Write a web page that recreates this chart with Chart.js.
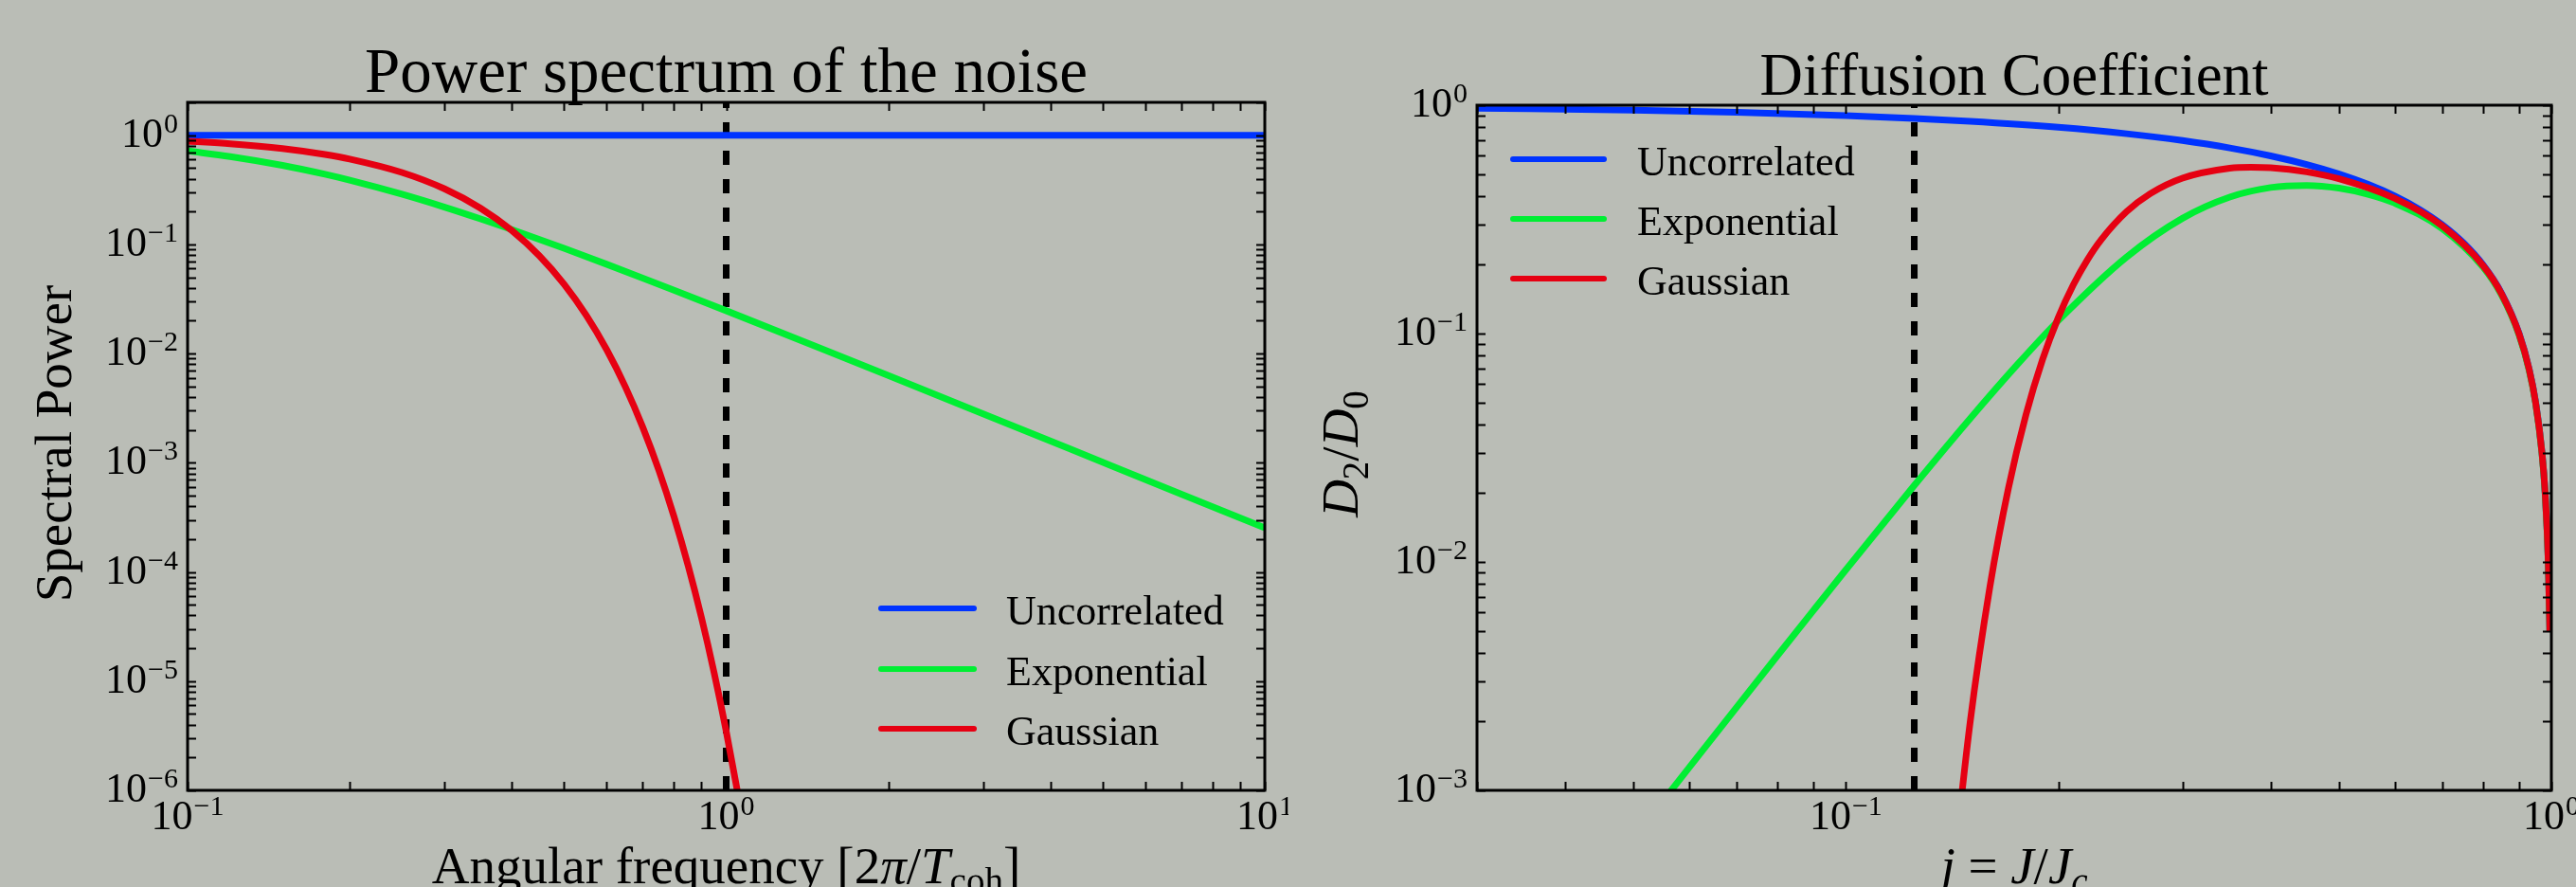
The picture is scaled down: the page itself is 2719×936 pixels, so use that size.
<!DOCTYPE html>
<html>
<head>
<meta charset="utf-8">
<script src="https://cdn.jsdelivr.net/npm/chart.js@4/dist/chart.umd.min.js"></script>
<style>
html, body { margin: 0; padding: 0; background: #babdb6; width: 2719px; height: 936px; overflow: hidden; }
canvas { position: absolute; top: 0; }
#left { left: 0; }
#right { left: 1360px; }
</style>
</head>
<body>
<canvas id="left" width="1360" height="936"></canvas>
<canvas id="right" width="1359" height="936"></canvas>
<script>
// ---------------- data ----------------
const seriesNames = ['Uncorrelated', 'Exponential', 'Gaussian'];
const seriesColors = ['#0033ff', '#00ee33', '#e60012'];

// Left panel: power spectrum of the noise
const freqUncorrelated = [0.1, 10];
const powerUncorrelated = [1, 1];
const freqExponential = [0.1, 0.12, 0.15, 0.18, 0.2, 0.25, 0.3, 0.35, 0.4, 0.5, 0.6, 0.7, 0.8, 1, 1.5, 2, 3, 5, 7, 10];
const powerExponential = [0.7170, 0.6376, 0.5296, 0.4388, 0.3877, 0.2884, 0.2196, 0.1713, 0.1367, 0.0920, 0.06574, 0.04915, 0.03807, 0.02470, 0.01113, 0.006293, 0.002807, 0.001012, 0.0005167, 0.0002532];
const freqGaussian = [0.1, 0.12, 0.15, 0.18, 0.2, 0.25, 0.3, 0.35, 0.4, 0.45, 0.5, 0.55, 0.6, 0.65, 0.7, 0.75, 0.8, 0.85, 0.9, 0.95, 1.0, 1.05, 1.1];
const powerGaussian = [0.8819, 0.8345, 0.7537, 0.6656, 0.6049, 0.4559, 0.3227, 0.2145, 0.1339, 0.07851, 0.04321, 0.02234, 0.01085, 0.004945, 0.002116, 0.000851, 0.0003215, 0.0001140, 3.797e-5, 1.188e-5, 3.487e-6, 9.62e-7, 2.49e-7];
const coherenceFreq = 1;

// Right panel: diffusion coefficient
const jUncorrelated = [0.03, 0.05, 0.07, 0.1, 0.125, 0.15, 0.2, 0.25, 0.3, 0.35, 0.4, 0.45, 0.5, 0.55, 0.6, 0.65, 0.7, 0.75, 0.8, 0.85, 0.9, 0.93, 0.95, 0.97, 0.98, 0.99, 0.995];
const dUncorrelated = [0.97, 0.95, 0.93, 0.9, 0.875, 0.85, 0.8, 0.75, 0.7, 0.65, 0.6, 0.55, 0.5, 0.45, 0.4, 0.35, 0.3, 0.25, 0.2, 0.15, 0.1, 0.07, 0.05, 0.03, 0.02, 0.01, 0.005];
const jExponential = [0.05, 0.06, 0.07, 0.08, 0.09, 0.1, 0.125, 0.15, 0.175, 0.2, 0.25, 0.3, 0.35, 0.4, 0.45, 0.5, 0.55, 0.6, 0.7, 0.8, 0.85, 0.9, 0.93, 0.95, 0.97, 0.98, 0.99, 0.995];
const dExponential = [6.156e-4, 1.2622e-3, 2.311e-3, 3.893e-3, 6.153e-3, 9.242e-3, 0.021617, 0.04242, 0.07316, 0.1139, 0.2163, 0.31965, 0.39579, 0.43589, 0.44533, 0.43320, 0.40712, 0.37231, 0.28842, 0.19540, 0.14728, 0.098552, 0.069110, 0.049415, 0.029677, 0.019793, 0.0099007, 0.0049513];
const jGaussian = [0.14, 0.15, 0.16, 0.17, 0.18, 0.19, 0.2, 0.21, 0.22, 0.23, 0.25, 0.27, 0.3, 0.35, 0.375, 0.4, 0.45, 0.5, 0.6, 0.7, 0.8, 0.85, 0.9, 0.93, 0.95, 0.97, 0.98, 0.99, 0.995];
const dGaussian = [2.924e-4, 1.9836e-3, 7.783e-3, 0.02108, 0.04411, 0.076926, 0.11756, 0.16312, 0.21055, 0.25725, 0.34196, 0.40983, 0.47930, 0.52981, 0.53519, 0.53224, 0.51035, 0.47605, 0.39064, 0.29619, 0.19851, 0.14912, 0.099533, 0.069714, 0.049812, 0.029896, 0.019934, 0.0099681, 0.0049844];
const jCritical = 0.125;

// Tick labels (powers of ten: value and exponent text)
const leftXTicks = [0.1, 1, 10];
const leftXTickExps = ['\u22121', '0', '1'];
const leftYTicks = [1e-6, 1e-5, 1e-4, 1e-3, 1e-2, 1e-1, 1];
const leftYTickExps = ['\u22126', '\u22125', '\u22124', '\u22123', '\u22122', '\u22121', '0'];
const rightXTicks = [0.1, 1];
const rightXTickExps = ['\u22121', '0'];
const rightYTicks = [1e-3, 1e-2, 1e-1, 1];
const rightYTickExps = ['\u22123', '\u22122', '\u22121', '0'];

// Texts
const leftTitle = 'Power spectrum of the noise';
const rightTitle = 'Diffusion Coefficient';
const leftYLabel = [{t: 'Spectral Power'}];
const leftXLabel = [{t: 'Angular frequency [2'}, {t: '\u03c0', it: true}, {t: '/'}, {t: 'T', it: true}, {t: 'coh', sub: true}, {t: ']'}];
const rightYLabel = [{t: 'D', it: true}, {t: '2', sub: true}, {t: '/'}, {t: 'D', it: true}, {t: '0', sub: true}];
const rightXLabel = [{t: 'j', it: true}, {t: ' = '}, {t: 'J', it: true}, {t: '/'}, {t: 'J', it: true}, {t: 'c', it: true, sub: true}];

// ---------------- rendering helpers ----------------
const FAMILY = '"Liberation Serif", "DejaVu Serif", serif';
const TICK_SIZE = 44, SUP_SIZE = 30, LABEL_SIZE = 55, LEGEND_SIZE = 44;

function pts(xs, ys) { return xs.map((x, i) => ({x: x, y: ys[i]})); }

function fontOf(p, base) {
  const size = p.sub ? Math.round(base * 0.7) : base;
  return (p.it ? 'italic ' : '') + size + 'px ' + FAMILY;
}
function richWidth(ctx, parts, base) {
  let w = 0;
  parts.forEach(p => { ctx.font = fontOf(p, base); w += ctx.measureText(p.t).width; });
  return w;
}
function drawRich(ctx, parts, base, cx, y) {
  let x = cx - richWidth(ctx, parts, base) / 2;
  ctx.textAlign = 'left';
  ctx.textBaseline = 'alphabetic';
  parts.forEach(p => {
    ctx.font = fontOf(p, base);
    ctx.fillText(p.t, x, y + (p.sub ? base * 0.2 : 0));
    x += ctx.measureText(p.t).width;
  });
}
function drawPow(ctx, exp, x, y, align) {
  ctx.font = TICK_SIZE + 'px ' + FAMILY;
  const w1 = ctx.measureText('10').width;
  ctx.font = SUP_SIZE + 'px ' + FAMILY;
  const w2 = ctx.measureText(exp).width;
  const total = w1 + 1 + w2;
  const x0 = align === 'right' ? x - total : x - total / 2;
  ctx.textAlign = 'left';
  ctx.textBaseline = 'alphabetic';
  ctx.font = TICK_SIZE + 'px ' + FAMILY;
  ctx.fillText('10', x0, y);
  ctx.font = SUP_SIZE + 'px ' + FAMILY;
  ctx.fillText(exp, x0 + w1 + 1, y - 15);
}
function logTickValues(min, max) {
  const out = [];
  const n0 = Math.floor(Math.log10(min)) , n1 = Math.ceil(Math.log10(max));
  for (let n = n0; n <= n1; n++) {
    for (let k = 1; k <= 9; k++) {
      const v = k * Math.pow(10, n);
      if (v >= min * 0.9999 && v <= max * 1.0001) out.push(v);
    }
  }
  return out;
}
function fitSize(ctx, text, targetW) {
  ctx.font = '100px ' + FAMILY;
  return 100 * targetW / ctx.measureText(text).width;
}

function axesPlugin(cfg) {
  return {
    id: 'mplAxes',
    afterDatasetsDraw(chart) {
      const ctx = chart.ctx, a = chart.chartArea;
      const xs = chart.scales.x, ys = chart.scales.y;
      ctx.save();
      ctx.fillStyle = '#000';
      ctx.strokeStyle = '#000';
      // inward ticks on all four sides
      const L = 9;
      ctx.lineWidth = 2;
      ctx.beginPath();
      logTickValues(xs.min, xs.max).forEach(v => {
        const px = Math.round(xs.getPixelForValue(v)) + 0.5;
        ctx.moveTo(px, a.bottom); ctx.lineTo(px, a.bottom - L);
        ctx.moveTo(px, a.top); ctx.lineTo(px, a.top + L);
      });
      logTickValues(ys.min, ys.max).forEach(v => {
        const py = Math.round(ys.getPixelForValue(v)) + 0.5;
        ctx.moveTo(a.left, py); ctx.lineTo(a.left + L, py);
        ctx.moveTo(a.right, py); ctx.lineTo(a.right - L, py);
      });
      ctx.stroke();
      // frame
      ctx.lineWidth = 3;
      ctx.strokeRect(a.left, a.top, a.right - a.left, a.bottom - a.top);
      // tick labels
      cfg.xTicks.forEach((v, i) => drawPow(ctx, cfg.xExps[i], xs.getPixelForValue(v), a.bottom + 41, 'center'));
      cfg.yTicks.forEach((v, i) => drawPow(ctx, cfg.yExps[i], a.left - 10, ys.getPixelForValue(v) + 12, 'right'));
      // title
      const ts = fitSize(ctx, cfg.title, cfg.titleWidth);
      ctx.font = ts + 'px ' + FAMILY;
      ctx.textAlign = 'center';
      ctx.textBaseline = 'alphabetic';
      ctx.fillText(cfg.title, (a.left + a.right) / 2, a.top - 11);
      // x label
      drawRich(ctx, cfg.xLabel, LABEL_SIZE, (a.left + a.right) / 2, 932);
      // y label (rotated)
      ctx.save();
      ctx.translate(cfg.yLabelX, cfg.yLabelY);
      ctx.rotate(-Math.PI / 2);
      drawRich(ctx, cfg.yLabel, LABEL_SIZE, 0, 0);
      ctx.restore();
      // legend
      let row = 0;
      chart.data.datasets.forEach(d => {
        if (!d.label) return;
        const y = cfg.legendY[row++];
        ctx.strokeStyle = d.borderColor;
        ctx.lineWidth = 6;
        ctx.lineCap = 'round';
        ctx.beginPath();
        ctx.moveTo(cfg.legendX0, y);
        ctx.lineTo(cfg.legendX1, y);
        ctx.stroke();
        ctx.fillStyle = '#000';
        ctx.font = LEGEND_SIZE + 'px ' + FAMILY;
        ctx.textAlign = 'left';
        ctx.textBaseline = 'alphabetic';
        ctx.fillText(d.label, cfg.legendTextX, y + 17);
      });
      ctx.restore();
    }
  };
}

function seriesDataset(i, data) {
  return {
    label: seriesNames[i],
    data: data,
    borderColor: seriesColors[i],
    backgroundColor: seriesColors[i],
    borderWidth: 7,
    pointRadius: 0,
    fill: false,
    cubicInterpolationMode: 'monotone',
    borderCapStyle: 'butt',
    borderJoinStyle: 'round',
    order: 3 - i,
    clip: 0
  };
}
function dashedDataset(data) {
  return {
    data: data,
    borderColor: '#000',
    borderWidth: 7,
    borderDash: [15, 15],
    pointRadius: 0,
    tension: 0,
    fill: false,
    borderCapStyle: 'butt',
    order: 10,
    clip: 0
  };
}
function baseOptions(xmin, xmax, ymin, ymax, pad) {
  return {
    responsive: false,
    animation: false,
    devicePixelRatio: 1,
    events: [],
    layout: { padding: pad },
    elements: { line: { capBezierPoints: false } },
    plugins: { legend: { display: false }, title: { display: false }, tooltip: { enabled: false } },
    scales: {
      x: { type: 'logarithmic', min: xmin, max: xmax, display: false },
      y: { type: 'logarithmic', min: ymin, max: ymax, display: false }
    }
  };
}

// ---------------- left chart ----------------
new Chart(document.getElementById('left'), {
  type: 'line',
  data: {
    datasets: [
      seriesDataset(0, pts(freqUncorrelated, powerUncorrelated)),
      seriesDataset(1, pts(freqExponential, powerExponential)),
      seriesDataset(2, pts(freqGaussian, powerGaussian)),
      dashedDataset([{x: coherenceFreq, y: 1e-6}, {x: coherenceFreq, y: 2}])
    ]
  },
  options: baseOptions(0.1, 10, 1e-6, 2, {left: 198, top: 108, right: 25, bottom: 102}),
  plugins: [axesPlugin({
    xTicks: leftXTicks, xExps: leftXTickExps, yTicks: leftYTicks, yExps: leftYTickExps,
    title: leftTitle, titleWidth: 763,
    xLabel: leftXLabel, yLabel: leftYLabel, yLabelX: 75, yLabelY: 468,
    legendX0: 930, legendX1: 1028, legendTextX: 1062, legendY: [642, 706, 769]
  })]
});

// ---------------- right chart ----------------
new Chart(document.getElementById('right'), {
  type: 'line',
  data: {
    datasets: [
      seriesDataset(0, pts(jUncorrelated, dUncorrelated)),
      seriesDataset(1, pts(jExponential, dExponential)),
      seriesDataset(2, pts(jGaussian, dGaussian)),
      dashedDataset([{x: jCritical, y: 1e-3}, {x: jCritical, y: 1}])
    ]
  },
  options: baseOptions(0.03, 1, 1e-3, 1, {left: 199, top: 111, right: 26, bottom: 102}),
  plugins: [axesPlugin({
    xTicks: rightXTicks, xExps: rightXTickExps, yTicks: rightYTicks, yExps: rightYTickExps,
    title: rightTitle, titleWidth: 537,
    xLabel: rightXLabel, yLabel: rightYLabel, yLabelX: 73, yLabelY: 479,
    legendX0: 237, legendX1: 333, legendTextX: 368, legendY: [168, 231, 294]
  })]
});
</script>
</body>
</html>
